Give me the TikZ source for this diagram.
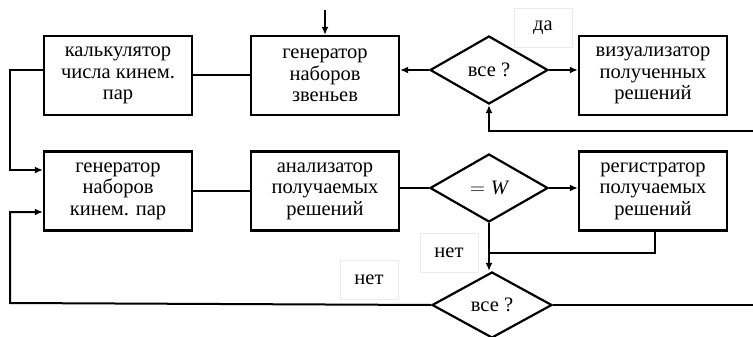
\documentclass[tikz,border=0pt]{standalone}
\usepackage{fontspec}
\setmainfont{Liberation Serif}
\usetikzlibrary{shapes.geometric,arrows.meta}
\begin{document}
\begin{tikzpicture}[x=1pt,y=-1pt,
  every node/.style={font=\fontsize{20.5}{21.5}\selectfont},
  block/.style={draw,line width=2.2pt,minimum width=148pt,minimum height=79pt,align=center,inner sep=2pt},
  decide/.style={draw,line width=2.2pt,diamond,inner sep=0pt,minimum width=118pt,minimum height=68pt},
  tag/.style={draw=black!8,line width=0.6pt,minimum width=58pt,minimum height=39pt},
  link/.style={line width=2pt},
  flow/.style={link,-{Latex[length=8pt,width=7pt]}}]
\useasboundingbox (0,0) rectangle (753,337);

% upper row
\node[block] (calc) at (118,75.5) {калькулятор\\числа кинем.\\пар};
\node[block] (genl) at (325,75.5) {генератор\\наборов\\звеньев};
\node[decide] (all1) at (489,70) {все ?};
\node[block] (vis) at (653,75.5) {визуализатор\\полученных\\решений};

% lower row
\node[block] (genp) at (118,191) {генератор\\наборов\\кинем. пар};
\node[block] (anl) at (325,191) {анализатор\\получаемых\\решений};
\node[decide] (eqw) at (489,188) {$=\mathit{W}$};
\node[block] (reg) at (653,191) {регистратор\\получаемых\\решений};
\node[decide,minimum width=120pt,minimum height=66pt] (all2) at (492,305) {все ?};

% answer labels
\node[tag] (yes) at (543,28) {да};
\node[tag] (no1) at (449,253) {нет};
\node[tag] (no2) at (369,279.5) {нет};

% free ends
\coordinate (in) at (325,10);
\coordinate (rin) at (753,131);
\coordinate (rout) at (753,305);
\coordinate (c1) at (10,70);
\coordinate (c2) at (10,303);
\coordinate (j) at (655,253);

% connectors
\draw[flow] (in) -- (genl.north);
\draw[link] (calc.east |- genl.west) -- (genl.west);
\draw[flow] (all1.west) -- (genl.east |- all1.west);
\draw[flow] (all1.east) -- (vis.west |- all1.east);
\draw[flow] (rin) -- (all1.south |- rin) -- (all1.south);
\draw[flow] (calc.west |- c1) -- (c1) -- (10,170) -- (genp.west |- 0,170);
\draw[link] (genp.east |- anl.west) -- (anl.west);
\draw[link] (anl.east |- eqw.west) -- (eqw.west);
\draw[flow] (eqw.east) -- (reg.west |- eqw.east);
\draw[link] (j |- reg.south) -- (j) -- (eqw.south |- j);
\draw[flow] (eqw.south) -- (eqw.south |- all2.north);
\draw[flow] (all2.west) -- (c2 -| c1) -- (10,212) -- (genp.west |- 0,212);
\draw[link] (all2.east) -- (rout);
\end{tikzpicture}
\end{document}
